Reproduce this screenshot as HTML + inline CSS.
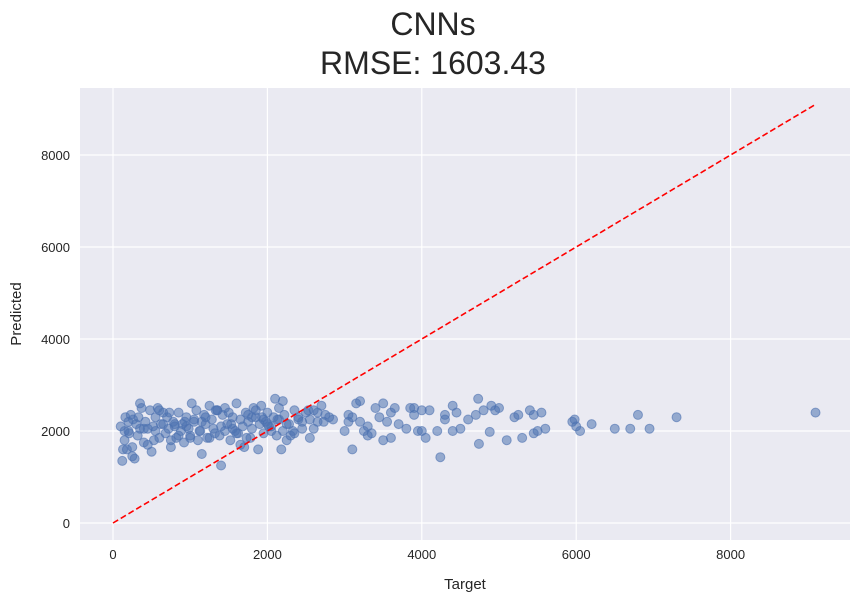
<!DOCTYPE html>
<html><head><meta charset="utf-8"><style>
body{margin:0;background:#fff;font-family:"Liberation Sans","DejaVu Sans",sans-serif}
</style></head><body>
<svg id="chart" width="862" height="602" xmlns="http://www.w3.org/2000/svg">
<rect x="80" y="88" width="770" height="452" fill="#eaeaf2"/>
<g id="grid"></g><g id="pts"></g><g id="line"></g><g id="ticks"></g>
<text x="433" y="35" font-size="32" text-anchor="middle" fill="#262626">CNNs</text>
<text x="433" y="74" font-size="32" text-anchor="middle" fill="#262626">RMSE: 1603.43</text>
<text x="465" y="589" font-size="15" text-anchor="middle" fill="#262626">Target</text>
<text x="21" y="314" font-size="15" text-anchor="middle" fill="#262626" transform="rotate(-90 21 314)">Predicted</text>
</svg>
<script>
const xTicks=[0,2000,4000,6000,8000];
const yTicks=[0,2000,4000,6000,8000];
const targets=[
100,120,150,160,180,200,210,230,250,260,
280,300,320,350,370,400,420,450,480,500,
520,550,580,600,620,650,680,700,720,750,
780,800,820,850,880,900,920,950,980,1000,
1020,1050,1080,1100,1120,1150,1180,1200,1220,1250,
1280,1300,1320,1350,1380,1400,1420,1450,1480,1500,
1520,1550,1580,1600,1620,1650,1680,1700,1720,1750,
1780,1800,1820,1850,1880,1900,1920,1950,1980,2000,
2020,2050,2080,2100,2120,2150,2180,2200,2220,2250,
2280,2300,2350,2400,2450,2500,2550,2600,2650,2700,
150,250,350,450,550,650,750,850,950,1050,
1150,1250,1350,1450,1550,1650,1750,1850,1950,2050,
2150,2250,2350,2450,2550,2650,2750,2850,
130,330,530,730,930,1130,1330,1530,1730,1930,2130,2330,2530,2730,
200,400,600,800,1000,1200,1400,1600,1800,2000,2200,2400,2600,2800,
3000,3050,3050,3100,3100,3150,3200,3200,3250,3300,
3300,3350,3400,3450,3500,3500,3550,3600,3600,3650,
3700,3800,3850,3900,3900,3950,4000,4000,4050,4100,
4200,4240,4300,4300,4400,4400,4450,4500,4600,4700,
4730,4740,4800,4880,4900,4950,5000,5100,5200,5250,
5300,5400,5450,5450,5500,5550,5600,5950,5980,6000,
6050,6200,6500,6700,6800,6950,7300,9100];
const predicted=[
2100,1350,1800,2300,1600,2200,1950,2350,1450,2250,
1400,2150,1900,2600,2500,1750,2200,2050,2450,1550,
2100,2000,2500,1850,2150,2400,1950,2300,2050,1650,
2200,2100,1850,2400,2000,2150,1750,2300,2050,1900,
2600,2200,2450,1800,2000,1500,2350,2150,1850,2550,
2250,2050,1950,2450,1900,1250,2350,2500,2150,2400,
1800,2300,2000,2600,1950,2250,2100,1650,2400,2200,
1850,2050,2500,2300,1600,2150,2550,1950,2200,2400,
2100,2000,2300,2700,1900,2250,1600,2650,2350,1800,
2150,1900,2450,2300,2200,2400,1850,2050,2200,2550,
2000,1650,2050,1700,2300,2150,1800,1900,2100,2250,
2200,1850,2450,2000,2050,1700,2350,2450,2250,2100,
2500,2150,1950,2050,2250,2400,2350,2250,
1600,2300,1800,2400,2200,2000,2450,2150,1850,2300,2250,2000,2450,2200,
2000,2050,2450,2150,1850,2300,2100,1950,2300,2150,2000,2250,2450,2300,
2000,2350,2200,1600,2300,2600,2650,2200,2000,1900,
2100,1950,2500,2300,2600,1800,2200,2400,1850,2500,
2150,2050,2500,2350,2500,2000,2450,2000,1850,2450,
2000,1430,2350,2250,2550,2000,2400,2050,2250,2350,
2700,1720,2450,1980,2550,2450,2500,1800,2300,2350,
1850,2450,1950,2350,2000,2400,2050,2200,2250,2100,
2000,2150,2050,2050,2350,2050,2300,2400];
const X=v=>113+v*0.0772, Y=v=>523-v*0.046;
const NS="http://www.w3.org/2000/svg";
function mk(tag,attrs,parent){const e=document.createElementNS(NS,tag);for(const k in attrs)e.setAttribute(k,attrs[k]);document.getElementById(parent).appendChild(e);return e;}
xTicks.forEach(t=>{const l=mk('line',{x1:X(t),x2:X(t),y1:88,y2:540,stroke:'#fff','stroke-width':1.2},'grid');


const tx=mk('text',{x:X(t),y:559,'font-size':13,'text-anchor':'middle',fill:'#262626'},'ticks');tx.textContent=t;

});
yTicks.forEach(t=>{const l=mk('line',{x1:80,x2:850,y1:Y(t),y2:Y(t),stroke:'#fff','stroke-width':1.2},'grid');


const tx=mk('text',{x:70,y:Y(t)+5,'font-size':13,'text-anchor':'end',fill:'#262626'},'ticks');tx.textContent=t;

});
const n=Math.min(targets.length,predicted.length);
for(let i=0;i<n;i++){const c=mk('circle',{cx:X(targets[i]),cy:Y(predicted[i]),r:4.5,fill:'#4c72b0','fill-opacity':0.55,stroke:'#4c72b0','stroke-opacity':0.6},'pts');

}
const mx=Math.max(...targets);
const ln=mk('line',{x1:X(0),y1:Y(0),x2:X(mx),y2:Y(mx),stroke:'red','stroke-width':1.6,'stroke-dasharray':'6,3'},'line');


</script>
</body></html>
